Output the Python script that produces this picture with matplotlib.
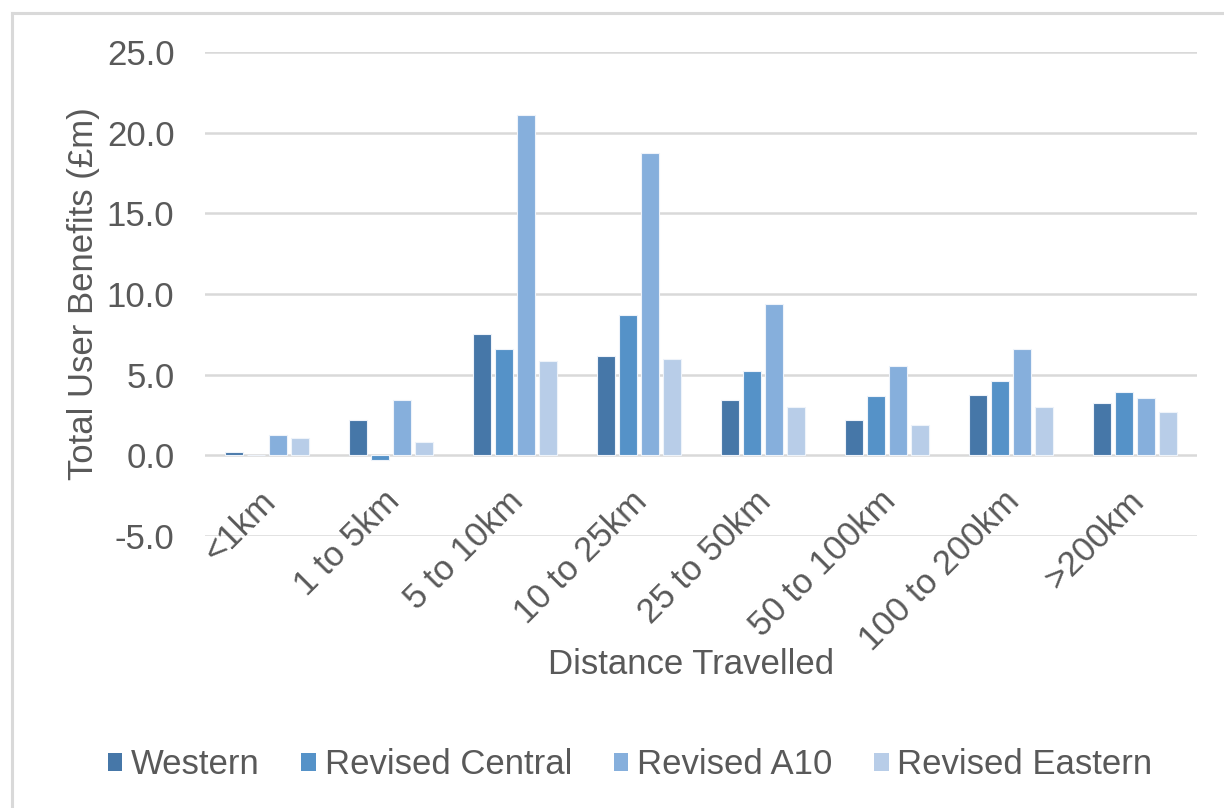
import numpy as np
import matplotlib
matplotlib.use('Agg')
import matplotlib.pyplot as plt
from matplotlib.patches import Patch
from matplotlib.lines import Line2D

plt.rcParams['font.family'] = ['Liberation Sans', 'DejaVu Sans']

# user benefits by trip length band (£m)
distance_bands = ['<1km', '1 to 5km', '5 to 10km', '10 to 25km', '25 to 50km',
                  '50 to 100km', '100 to 200km', '>200km']
western = [0.2, 2.2, 7.5, 6.15, 3.45, 2.2, 3.75, 3.25]
revised_central = [0.0, -0.3, 6.6, 8.7, 5.2, 3.65, 4.6, 3.95]
revised_a10 = [1.25, 3.4, 21.1, 18.75, 9.4, 5.55, 6.6, 3.55]
revised_eastern = [1.05, 0.85, 5.85, 5.95, 3.0, 1.9, 3.0, 2.7]

series_names = ['Western', 'Revised Central', 'Revised A10', 'Revised Eastern']
series_values = [western, revised_central, revised_a10, revised_eastern]
colours = ['#4677a8', '#5592c8', '#86afdc', '#b8cde8']
text_col = '#595959'
grid_col = '#d9d9d9'
fs = 25

fig = plt.figure(figsize=(12.24, 8.08), dpi=100)
ax = fig.add_axes([205/1224, 1-536/808, (1197-205)/1224, (536-52)/808])

x = np.arange(len(distance_bands))
step = 0.177
width = 0.145
for k, (vals, c) in enumerate(zip(series_values, colours)):
    ax.bar(x + (k - 1.5)*step, vals, width=width, color=c,
           edgecolor='#eef3fa', linewidth=0.8, zorder=3)

ax.set_xlim(-0.5, len(distance_bands) - 0.5)
ax.set_ylim(-5, 25)
ax.set_yticks(np.arange(-5, 26, 5))
ax.set_yticklabels(['%.1f' % v for v in np.arange(-5, 26, 5)])
ax.grid(axis='y', color=grid_col, linewidth=1.8, zorder=0)
ax.set_axisbelow(True)
for s in ax.spines.values():
    s.set_visible(False)
ax.tick_params(axis='y', length=0, pad=22, labelsize=fs, labelcolor=text_col)
ax.tick_params(axis='x', length=0)
ax.set_xticks([])

# rotated category labels hanging under the zero line
for i, lab in enumerate(distance_bands):
    ax.annotate(lab, xy=(i, 0), xycoords='data', xytext=(-6, -21),
                textcoords='offset points', rotation=45, ha='right', va='top',
                rotation_mode='anchor', fontsize=fs, color=text_col)

ax.set_ylabel('Total User Benefits (£m)', fontsize=fs, color=text_col, labelpad=5)
fig.text(691/1224, 1-665/808, 'Distance Travelled', ha='center', va='center',
         fontsize=fs, color=text_col)

handles = [Patch(facecolor=c, edgecolor='none') for c in colours]
leg = fig.legend(handles, series_names, loc='center', bbox_to_anchor=(630/1224, 1-765/808),
                 ncol=4, frameon=False, fontsize=fs, handlelength=0.42, handleheight=0.42,
                 handletextpad=0.25, columnspacing=1.2)
for t in leg.get_texts():
    t.set_color(text_col)

# chart frame on the left and top edges
fig.add_artist(Line2D([12/1224, 12/1224], [0, 1-13/808], color='#d9d9d9', linewidth=2.2))
fig.add_artist(Line2D([12/1224, 1], [1-13/808, 1-13/808], color='#d9d9d9', linewidth=2.2))

fig.savefig('out.png', dpi=100)
